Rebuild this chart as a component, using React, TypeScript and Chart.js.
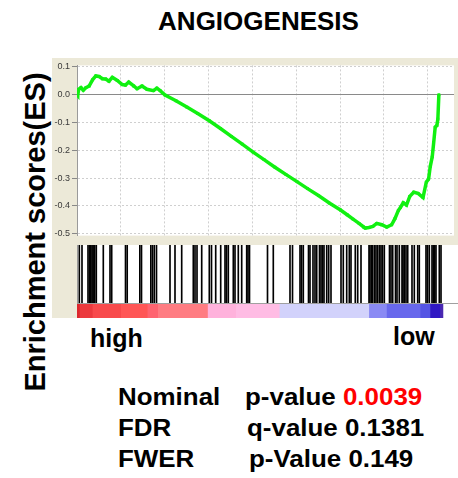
import React, { useEffect, useRef } from "react";
import { Chart, registerables } from "chart.js";

Chart.register(...registerables);

// ---------- data ----------
const chartTitle = "ANGIOGENESIS";
const yAxisTitle = "Enrichment scores(ES)";
const leftLabel = "high";
const rightLabel = "low";

// running enrichment score: gene rank -> ES
const esRanks = [
  0, 40, 96, 226, 356, 508, 694, 886, 1072, 1258,
  1450, 1636, 1823, 2015, 2297, 2579, 2765, 2951, 3233, 3425,
  3707, 3990, 4362, 4554, 4740, 5022, 5643, 6264, 6884, 7545,
  8182, 8803, 9424, 10045, 10665, 11286, 11907, 12544, 13148, 13769,
  14390, 15027, 15405, 15744, 16083, 16348, 16438, 16647, 16872, 17098,
  17380, 17663, 17945, 18131, 18323, 18453, 18605, 18791, 18977, 19203,
  19451, 19733, 19920, 20050, 20145, 20258, 20332, 20428, 20524, 20580,
  20637,
];
const esValues = [
  0, -0.003, 0.019, 0.025, 0.016, 0.025, 0.031, 0.053, 0.067, 0.065,
  0.057, 0.056, 0.048, 0.062, 0.051, 0.036, 0.034, 0.045, 0.031, 0.021,
  0.031, 0.019, 0.014, 0.023, 0.014, -0.002, -0.022, -0.045, -0.068, -0.094,
  -0.122, -0.15, -0.178, -0.207, -0.234, -0.261, -0.287, -0.313, -0.338, -0.363,
  -0.39, -0.415, -0.432, -0.448, -0.463, -0.476, -0.48, -0.478, -0.474, -0.463,
  -0.468, -0.476, -0.468, -0.446, -0.417, -0.405, -0.389, -0.397, -0.366, -0.351,
  -0.355, -0.37, -0.315, -0.304, -0.259, -0.224, -0.179, -0.117, -0.111, -0.088,
  0.0,
];

// positions (ranks) of gene-set members
const hitRanks = [
  130, 282, 621, 705, 773, 846, 903, 959, 999, 1089, 1484, 1862, 1958, 2737, 2833,
  3544, 3640, 4165, 4260, 4362, 4486, 5248, 5530, 5908, 6563, 6659, 6772, 7037,
  7466, 7590, 7827, 8109, 8352, 8436, 8538, 8820, 8916, 9102, 9294, 9576, 9650,
  9734, 10750, 11077, 12020, 12161, 12584, 12669, 12770, 13064, 13148, 13317,
  13430, 13526, 13684, 13769, 13854, 13938, 14091, 14203, 14333, 14898, 15027,
  15219, 15366, 15462, 15704, 15840, 16026, 16478, 16534, 16619, 16686, 16788,
  16873, 16969, 17070, 17155, 17240, 17342, 17634, 17719, 17815, 17973, 18058,
  18187, 18340, 18396, 18470, 18566, 18662, 18904, 19034, 19226, 19316, 19694,
  19779, 19880, 20033, 20106, 20185, 20258, 20445, 20541,
];

// ranked-list metric colour bar
const metricSegStarts = [0, 170, 900, 2500, 4000, 4600, 7400, 9000, 11450, 16500, 17500, 19400, 19950, 20520];
const metricSegEnds = [170, 900, 2500, 4000, 4600, 7400, 9000, 11450, 16500, 17500, 19400, 19950, 20520, 20650];
const metricSegColors = [
  "#dc262c", "#ec3a3e", "#f84a4c", "#ff5656", "#ff6470", "#ff7c82", "#ffb2dc",
  "#ffbce4", "#d2d2fb", "#8a8af4", "#6868ec", "#5454e4", "#3018c4", "#4a28b0",
];

const esTickValues = [0.1, 0, -0.1, -0.2, -0.3, -0.4, -0.5];
const rankGridValues = [0, 2500, 5000, 7500, 10000, 12500, 15000, 17500, 20000];
const rankMin = 0;
const rankMax = 21500;
const esMin = -0.507;
const esMax = 0.105;

const statRows = [
  { label: "Nominal", name: "p-value", value: "0.0039", highlight: true },
  { label: "FDR", name: "q-value", value: "0.1381", highlight: false },
  { label: "FWER", name: "p-Value", value: "0.149", highlight: false },
];

// ---------- helpers ----------
const whiteArea = {
  id: "whiteArea",
  beforeDraw(chart: any) {
    const { ctx, chartArea: a } = chart;
    ctx.save();
    ctx.fillStyle = "#ffffff";
    ctx.fillRect(a.left, a.top, a.right - a.left, a.bottom - a.top);
    ctx.restore();
  },
};

const FONT = "'Liberation Sans', Arial, Helvetica, sans-serif";
const noPlugins = { legend: { display: false }, tooltip: { enabled: false }, title: { display: false } };

export default function App() {
  const esRef = useRef<HTMLCanvasElement | null>(null);
  const hitRef = useRef<HTMLCanvasElement | null>(null);
  const barRef = useRef<HTMLCanvasElement | null>(null);

  useEffect(() => {
    const charts: Chart[] = [];

    charts.push(
      new Chart(esRef.current!, {
        type: "line",
        data: {
          datasets: [
            {
              data: esRanks.map((r, i) => ({ x: r, y: esValues[i] })),
              borderColor: "#11f011",
              backgroundColor: "#11f011",
              borderWidth: 3.5,
              pointRadius: 2,
              pointStyle: "rect",
              pointBorderWidth: 0,
              tension: 0,
              fill: false,
            },
          ],
        },
        options: {
          responsive: false,
          animation: false,
          devicePixelRatio: 1,
          layout: { padding: { top: 5, right: 0, bottom: 0, left: 0 } },
          plugins: noPlugins as any,
          scales: {
            x: {
              type: "linear",
              min: rankMin,
              max: rankMax,
              offset: false,
              afterBuildTicks: (s: any) => {
                s.ticks = rankGridValues.map((v) => ({ value: v }));
              },
              ticks: { display: false },
              grid: { color: "#cfcfcf", drawTicks: false, lineWidth: 1 },
              border: { display: false, dash: [2, 2] },
              afterFit: (s: any) => {
                s.height = 0;
              },
            },
            y: {
              type: "linear",
              min: esMin,
              max: esMax,
              afterBuildTicks: (s: any) => {
                s.ticks = esTickValues.map((v) => ({ value: v }));
              },
              ticks: {
                callback: (v: any) => Number(v).toFixed(1),
                font: { family: FONT, size: 9 },
                color: "#3a3a3a",
                padding: 2,
              },
              grid: {
                color: (c: any) => (c.tick && c.tick.value === 0 ? "#8a8a8a" : "#cfcfcf"),
                tickColor: "#888888",
                tickLength: 5,
              },
              border: {
                display: true,
                color: "#9a9a9a",
                dash: (c: any) => (c.tick && c.tick.value === 0 ? [] : [2, 2]),
              },
              afterFit: (s: any) => {
                s.width = 25;
              },
            },
          },
        },
        plugins: [whiteArea],
      } as any)
    );

    charts.push(
      new Chart(hitRef.current!, {
        type: "bar",
        data: {
          datasets: [
            {
              data: hitRanks.map((r) => ({ x: r, y: 1 })),
              backgroundColor: "#000000",
              barThickness: 1,
              borderWidth: 0,
            },
          ],
        },
        options: {
          responsive: false,
          animation: false,
          devicePixelRatio: 1,
          layout: { padding: { top: 1, right: 0, bottom: 1, left: 0 } },
          plugins: noPlugins as any,
          scales: {
            x: {
              type: "linear",
              min: rankMin,
              max: rankMax,
              offset: false,
              ticks: { display: false },
              grid: { display: false, offset: false },
              border: { display: true, color: "#a0a0a0" },
              afterFit: (s: any) => {
                s.height = 0;
              },
            },
            y: {
              type: "linear",
              min: 0,
              max: 1,
              ticks: { display: false },
              grid: { display: false },
              border: { display: true, color: "#9a9a9a" },
              afterFit: (s: any) => {
                s.width = 25;
              },
            },
          },
        },
        plugins: [whiteArea],
      } as any)
    );

    charts.push(
      new Chart(barRef.current!, {
        type: "bar",
        data: {
          labels: ["metric"],
          datasets: [
            {
              data: metricSegStarts.map((s, i) => ({ x: [s, metricSegEnds[i]], y: "metric" })),
              backgroundColor: metricSegColors,
              borderWidth: 0,
              borderSkipped: false,
              categoryPercentage: 1,
              barPercentage: 1,
            },
          ],
        },
        options: {
          indexAxis: "y",
          responsive: false,
          animation: false,
          devicePixelRatio: 1,
          layout: { padding: 0 },
          plugins: noPlugins as any,
          scales: {
            x: {
              type: "linear",
              min: rankMin,
              max: rankMax,
              offset: false,
              display: false,
            },
            y: {
              type: "category",
              labels: ["metric"],
              ticks: { display: false },
              grid: { display: false },
              border: { display: true, color: "#9a9a9a" },
              afterFit: (s: any) => {
                s.width = 25;
              },
            },
          },
        },
        plugins: [whiteArea],
      } as any)
    );

    return () => charts.forEach((c) => c.destroy());
  }, []);

  const abs = (o: React.CSSProperties): React.CSSProperties => ({ position: "absolute", ...o });
  const statTops = [384.7, 415.7, 447.4];
  const nameLefts = [245, 246.7, 249];

  return (
    <div
      style={{
        position: "fixed",
        left: 0,
        top: 0,
        width: 458,
        height: 478,
        background: "#ffffff",
        overflow: "hidden",
        fontFamily: FONT,
        fontWeight: "bold",
        color: "#000",
      }}
    >
      <div
        style={abs({
          left: 258.5,
          top: 8,
          transform: "translateX(-50%)",
          fontSize: 26,
          lineHeight: "26px",
          whiteSpace: "nowrap",
        })}
      >
        {chartTitle}
      </div>

      <div
        style={abs({
          left: 35,
          top: 231.5,
          transform: "translate(-50%, -50%) rotate(-90deg)",
          fontSize: 29,
          lineHeight: "29px",
          whiteSpace: "nowrap",
        })}
      >
        {yAxisTitle}
      </div>

      <div style={abs({ left: 52, top: 58, width: 406, height: 260, background: "#ece9d8" })} />

      <canvas ref={esRef} width={406} height={185} style={abs({ left: 52, top: 58, width: 406, height: 185 })} />
      <canvas ref={hitRef} width={406} height={60} style={abs({ left: 52, top: 244, width: 406, height: 60 })} />
      <canvas ref={barRef} width={406} height={14} style={abs({ left: 52, top: 304, width: 406, height: 14 })} />

      <div style={abs({ left: 90, top: 325.8, fontSize: 25, lineHeight: "25px" })}>{leftLabel}</div>
      <div style={abs({ left: 393, top: 323.5, fontSize: 25, lineHeight: "25px" })}>{rightLabel}</div>

      {statRows.map((row, i) => (
        <React.Fragment key={row.label}>
          <div
            style={abs({
              left: 118,
              top: statTops[i],
              fontSize: 24,
              lineHeight: "24px",
              whiteSpace: "nowrap",
              transform: "scaleX(1.08)",
              transformOrigin: "left top",
            })}
          >
            {row.label}
          </div>
          <div
            style={abs({
              left: nameLefts[i],
              top: statTops[i],
              fontSize: 24,
              lineHeight: "24px",
              whiteSpace: "pre",
              transform: "scaleX(1.08)",
              transformOrigin: "left top",
            })}
          >
            {row.name + " "}
            <span style={{ color: row.highlight ? "#ff0000" : "#000" }}>{row.value}</span>
          </div>
        </React.Fragment>
      ))}
    </div>
  );
}
